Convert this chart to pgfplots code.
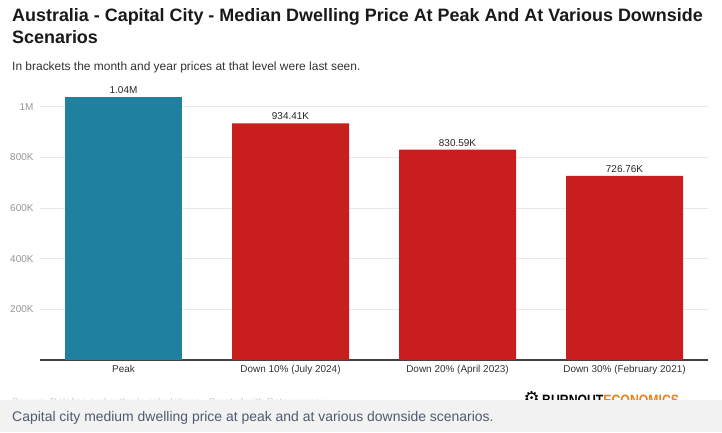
\documentclass[border=0pt]{standalone}
\usepackage{fontspec}
\usepackage{pgfplots}
\pgfplotsset{compat=1.18}
\setmainfont{Liberation Sans}
\newfontfamily\condfont[FakeStretch=0.82]{Liberation Sans}
\newfontfamily\symfont{DejaVu Sans}
\definecolor{peakc}{RGB}{31,128,160}
\definecolor{downc}{RGB}{201,30,30}
\definecolor{gridc}{RGB}{232,232,232}
\definecolor{tickc}{RGB}{150,150,150}
\definecolor{capbox}{RGB}{242,242,242}
\definecolor{captext}{RGB}{80,90,110}
\definecolor{orangec}{RGB}{232,130,30}
\begin{document}
\begin{tikzpicture}[x=1bp,y=1bp]
\fill[white] (0,0) rectangle (722,432);
\useasboundingbox (0,0) rectangle (722,432);
\node[anchor=base west, inner sep=0, font=\bfseries\fontsize{18}{21}\selectfont, text=black!90] at (12,410) {Australia - Capital City - Median Dwelling Price At Peak And At Various Downside};
\node[anchor=base west, inner sep=0, font=\bfseries\fontsize{18}{21}\selectfont, text=black!90] at (12,388.5) {Scenarios};
\node[anchor=base west, inner sep=0, font=\fontsize{12}{14}\selectfont, text=black!80] at (12,362) {In brackets the month and year prices at that level were last seen.};
\begin{axis}[
  at={(40bp,72bp)}, anchor=south west,
  scale only axis, width=668bp, height=278.6bp,
  xmin=-0.5, xmax=3.5, ymin=0, ymax=1100000,
  axis x line=bottom, axis y line=left,
  x axis line style={-, draw=black!75, line width=1.2pt},
  y axis line style={draw=none},
  major tick length=0pt,
  xtick={0,1,2,3},
  xticklabels={Peak, Down 10\% (July 2024), Down 20\% (April 2023), Down 30\% (February 2021)},
  ytick={200000,400000,600000,800000,1000000},
  yticklabels={200K,400K,600K,800K,1M},
  scaled y ticks=false,
  ymajorgrids, grid style={draw=gridc, line width=0.8pt},
  xticklabel style={font=\fontsize{10}{12}\selectfont, text=black!80, yshift=-2bp},
  yticklabel style={font=\fontsize{10}{12}\selectfont, text=tickc, xshift=-3bp},
  clip=false,
]
\addplot[ybar, bar width=117bp, bar shift=0pt, fill=peakc, draw=none,
  point meta=explicit symbolic, nodes near coords,
  nodes near coords style={font=\fontsize{10}{12}\selectfont, text=black!85}]
  coordinates {(0,1037000)[1.04M]};
\addplot[ybar, bar width=117bp, bar shift=0pt, fill=downc, draw=none,
  point meta=explicit symbolic, nodes near coords,
  nodes near coords style={font=\fontsize{10}{12}\selectfont, text=black!85}]
  coordinates {(1,934410)[934.41K] (2,830590)[830.59K] (3,726760)[726.76K]};
\end{axis}
\node[anchor=base west, inner sep=0, font=\fontsize{10}{12}\selectfont, text=black!20] at (12,27) {Source: Dataline and author's calculations - Created with Datawrapper};
\node[anchor=base east, inner sep=0, font=\symfont\fontsize{18}{20}\selectfont] at (540,28) {⚙};
\node[anchor=base west, inner sep=0, font=\condfont\bfseries\fontsize{15}{18}\selectfont] at (542,27) {BURNOUT\textcolor{orangec}{ECONOMICS}{\fontsize{9}{10}\selectfont.com}};
\fill[capbox] (0,0) rectangle (722,32);
\node[anchor=base west, inner sep=0, font=\fontsize{14}{16}\selectfont, text=captext] at (12,10.3) {Capital city medium dwelling price at peak and at various downside scenarios.};
\end{tikzpicture}
\end{document}
